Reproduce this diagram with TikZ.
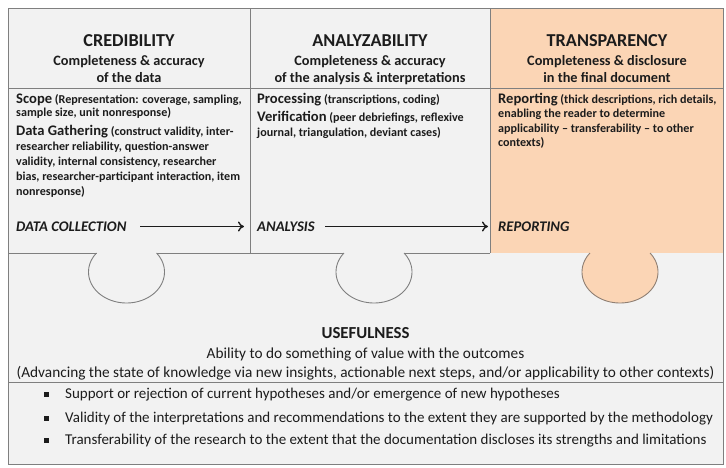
\documentclass[tikz,border=0pt]{standalone}
\usepackage{fontspec}
\setmainfont{Carlito}
\usetikzlibrary{arrows.meta}
\definecolor{bgc}{HTML}{F2F2F2}
\definecolor{lnc}{HTML}{7F7F7F}
\definecolor{orc}{HTML}{FBD5B5}
\definecolor{tabc}{HTML}{8F7F73}
\definecolor{txc}{HTML}{1C1C1C}
\begin{document}
\begin{tikzpicture}[x=1pt,y=-1pt,
  frame/.style={draw=lnc, line width=0.9pt},
  ttl/.style={font=\fontsize{18.2}{20}\selectfont\bfseries, anchor=base, text=txc, inner sep=0pt},
  sub/.style={font=\fontsize{14.3}{16}\selectfont\bfseries, anchor=base, text=txc, inner sep=0pt},
  bl/.style={font=\fontsize{12.1}{14}\selectfont\bfseries, anchor=base west, text=txc, inner sep=0pt},
  phase/.style={font=\fontsize{14.7}{16}\selectfont\bfseries\itshape, anchor=base west, text=txc, inner sep=0pt},
  arr/.style={draw=txc, line width=1.4pt, -{To[length=6pt,width=10pt]}},
  usel/.style={font=\fontsize{15.3}{17}\selectfont, anchor=base, text=txc, inner sep=0pt},
  bul/.style={font=\fontsize{15}{17}\selectfont, anchor=base west, text=txc, inner sep=0pt},
  sq/.style={fill=txc, minimum size=5pt, inner sep=0pt},
]
\newcommand{\bigw}[1]{{\fontsize{14.6}{16}\selectfont #1}}
\useasboundingbox (0,0) rectangle (726,467);
% frame
\path[fill=bgc] (8,8) rectangle (723,464);
\fill[orc] (620,272) ellipse [x radius=38pt, y radius=31pt];
\fill[orc] (490,8) rectangle (723,253);
\draw[frame] (8,8) rectangle (723,464);
\draw[frame] (8,88) -- (723,88);
\draw[frame] (250,8) -- (250,253);
\draw[frame] (490,8) -- (490,253);
\draw[frame] (8,382) -- (723,382);
% bottom edge of the top row with tabs
\draw[frame] (8,253) -- (96.5,253);
\draw[frame] (156.5,253) -- (344,253);
\draw[frame] (404,253) -- (490,253);
\draw[frame] plot[domain=-37.8:217.8, samples=60] ({126.5-38*cos(\x)},{272+31*sin(\x)});
\draw[frame] plot[domain=-37.8:217.8, samples=60] ({374-38*cos(\x)},{272+31*sin(\x)});
\draw[draw=tabc, line width=0.9pt]
  plot[domain=-37.8:217.8, samples=60] ({620-38*cos(\x)},{272+31*sin(\x)});
% headers
\node[ttl] (t1) at (129,46) {CREDIBILITY};
\node[sub] (s1a) at (129,65) {Completeness \& accuracy};
\node[sub] (s1b) at (129,82) {of the data};
\node[ttl] (t2) at (370,46) {ANALYZABILITY};
\node[sub] (s2a) at (370,65) {Completeness \& accuracy};
\node[sub] (s2b) at (370,82) {of the analysis \& interpretations};
\node[ttl] (t3) at (607,46) {TRANSPARENCY};
\node[sub] (s3a) at (607,65) {Completeness \& disclosure};
\node[sub] (s3b) at (607,82) {in the final document};
% column 1 body
\node[bl] (c1l1) at (16,103) {\bigw{Scope} (Representation: coverage, sampling,};
\node[bl] (c1l2) at (16,116.5) {sample size, unit nonresponse)};
\node[bl] (c1l3) at (16,135) {\bigw{Data Gathering} (construct validity, inter-};
\node[bl] (c1l4) at (16,150) {researcher reliability, question-answer};
\node[bl] (c1l5) at (16,165) {validity, internal consistency, researcher};
\node[bl] (c1l6) at (16,180) {bias, researcher-participant interaction, item};
\node[bl] (c1l7) at (16,195) {nonresponse)};
% column 2 body
\node[bl] (c2l1) at (257,103) {\bigw{Processing} (transcriptions, coding)};
\node[bl] (c2l2) at (257,121) {\bigw{Verification} (peer debriefings, reflexive};
\node[bl] (c2l3) at (257,136) {journal, triangulation, deviant cases)};
% column 3 body
\node[bl] (c3l1) at (498,103) {\bigw{Reporting} (thick descriptions, rich details,};
\node[bl] (c3l2) at (498,117.5) {enabling the reader to determine};
\node[bl] (c3l3) at (498,132) {applicability – transferability – to other};
\node[bl] (c3l4) at (498,146.5) {contexts)};
% phases
\node[phase] (dc) at (16,231) {DATA COLLECTION};
\node[phase] (an) at (257,231) {ANALYSIS};
\node[phase] (rp) at (498,231) {REPORTING};
\coordinate (a1s) at (140,226.5);
\coordinate (a1e) at (244,226.5);
\coordinate (a2s) at (325,226.5);
\coordinate (a2e) at (488,226.5);
\draw[arr] (a1s) -- (a1e);
\draw[arr] (a2s) -- (a2e);
% usefulness
\node[ttl, font=\fontsize{16.8}{20}\selectfont\bfseries] (u) at (365.5,338) {USEFULNESS};
\node[usel] (u1) at (365.5,358.5) {Ability to do something of value with the outcomes};
\node[usel] (u2) at (365.5,377) {(Advancing the state of knowledge via new insights, actionable next steps, and/or applicability to other contexts)};
\node[sq] (b1) at (46.5,394) {};
\node[sq] (b2) at (46.5,418) {};
\node[sq] (b3) at (46.5,440) {};
\node[bul] (bt1) at (65,398.5) {Support or rejection of current hypotheses and/or emergence of new hypotheses};
\node[bul] (bt2) at (65,422.5) {Validity of the interpretations and recommendations to the extent they are supported by the methodology};
\node[bul] (bt3) at (65,444.5) {Transferability of the research to the extent that the documentation discloses its strengths and limitations};
\end{tikzpicture}
\end{document}
